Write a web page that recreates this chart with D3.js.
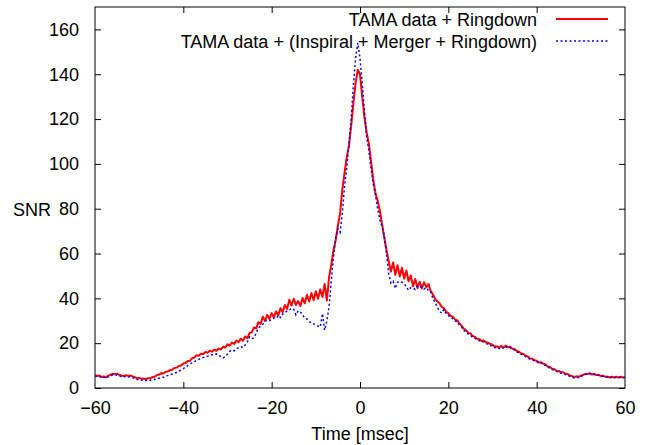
<!DOCTYPE html>
<html><head><meta charset="utf-8">
<script src="https://cdn.jsdelivr.net/npm/d3@7"></script>
<style>body{margin:0;background:#fff}svg{display:block}text{font-family:"Liberation Sans",Arial,sans-serif}</style>
</head><body><div id="chart"></div>
<script>
// time grid: -60 .. 60 msec, every 0.5 msec
const tStart = -60, tStep = 0.5;
const seriesNames = ["TAMA data + Ringdown", "TAMA data + (Inspiral + Merger + Ringdown)"];
const xTicks = [-60, -40, -20, 0, 20, 40, 60];
const yTicks = [0, 20, 40, 60, 80, 100, 120, 140, 160];
const xLabel = "Time [msec]";
const yLabel = "SNR";

const ringdown = [
 5.8,5.4,5.6,4.9,5.2,4.8,5.5,5.9,6.3,6.1,6.4,5.8,5.6,5.3,5.7,5.4,5.6,5.2,4.8,4.4,
 4.5,4.1,4.2,3.9,4.4,4.3,4.8,5.0,5.7,6.0,6.6,6.5,7.3,7.4,8.0,8.1,8.9,9.1,9.8,10.0,
 10.9,11.2,12.0,12.1,13.3,13.6,14.6,14.4,15.3,15.2,16.1,15.7,16.6,16.2,17.1,16.6,17.6,17.2,18.4,18.0,
 19.5,18.9,20.3,19.7,21.2,20.4,22.0,21.1,23.0,22.2,24.6,24.8,27.0,26.6,29.4,28.6,31.8,29.9,32.6,30.8,
 33.4,31.6,34.2,32.4,35.6,33.8,37.0,35.2,39.4,36.8,39.8,37.0,38.8,36.6,40.2,37.8,41.6,38.6,42.4,39.2,
 43.2,39.8,44.0,40.6,46.4,39.0,49.5,55.0,61.5,66.0,72.5,78.0,88.5,96.0,103.0,108.0,117.0,127.0,136.0,142.0,
 140.0,130.0,121.0,114.0,109.0,101.0,93.0,87.0,83.5,79.0,73.0,67.0,61.5,56.5,52.0,56.0,50.5,54.8,49.8,53.6,
 48.8,52.4,47.6,50.2,45.4,48.6,44.6,47.4,44.4,47.2,45.0,46.4,43.2,41.8,39.8,38.6,37.8,36.2,35.6,34.0,
 33.4,32.2,31.8,30.6,30.2,28.8,27.8,26.4,25.8,24.6,24.4,23.2,22.8,22.0,21.8,21.0,21.2,20.4,20.2,19.6,
 19.3,18.4,18.6,18.0,18.8,18.0,18.9,18.2,18.4,17.5,17.4,16.5,16.2,15.4,15.2,14.4,14.0,13.2,13.1,12.4,
 12.2,11.4,11.5,10.8,10.5,9.6,9.4,8.6,8.4,7.7,7.6,7.0,7.0,6.4,6.2,5.6,5.3,4.9,5.2,5.0,
 5.5,5.8,6.3,6.2,6.6,6.0,6.3,5.8,5.9,5.4,5.5,5.0,5.1,4.7,5.0,4.7,5.0,4.7,5.0,4.7,4.9
];
const fullSignal = [
 5.4,5.0,5.2,4.5,4.8,4.3,5.0,5.5,5.8,5.6,5.9,5.3,5.1,4.8,5.2,4.9,5.1,4.6,4.2,3.8,
 3.8,3.5,3.7,3.3,3.6,3.4,3.9,3.8,4.3,4.4,4.6,4.8,5.3,5.6,6.0,6.2,6.6,7.0,7.6,8.0,
 8.6,9.4,10.0,10.8,11.2,11.8,12.3,12.8,13.2,13.6,14.0,14.2,14.6,14.9,14.8,15.2,14.6,14.0,13.4,14.0,
 15.2,16.4,17.0,16.6,17.4,18.0,18.4,18.0,19.2,20.6,22.8,22.0,22.4,24.6,26.8,27.6,28.4,29.8,30.4,30.0,
 30.6,31.2,31.0,32.4,31.4,33.0,33.6,34.4,34.8,35.4,35.2,32.6,34.4,34.0,32.6,31.2,30.8,29.6,29.0,28.6,
 28.0,27.6,27.2,33.2,25.8,30.0,36.4,48.0,58.6,67.0,71.0,69.5,78.0,90.0,98.0,109.0,120.0,135.0,147.0,154.0,
 147.0,136.0,124.0,112.0,106.0,98.0,91.0,86.0,80.0,75.0,72.0,68.0,60.0,51.0,46.8,47.6,44.4,47.2,47.6,47.2,
 46.6,45.0,43.6,44.8,44.6,44.0,45.4,44.8,45.2,44.2,44.8,43.4,43.0,40.0,38.0,36.2,34.2,33.4,35.0,33.2,
 32.4,31.4,31.0,30.0,29.6,28.0,27.2,25.6,25.2,24.0,23.6,22.6,22.2,21.4,21.2,20.6,20.6,19.8,19.6,19.0,
 18.8,18.0,18.2,17.6,18.4,17.6,18.4,17.8,18.0,17.2,17.0,16.0,15.8,15.0,14.8,14.0,13.6,12.8,12.6,12.0,
 11.8,11.0,11.2,10.4,10.1,9.2,9.0,8.2,8.0,7.4,7.2,6.6,6.5,6.0,5.8,5.2,4.9,4.5,4.8,4.6,
 5.2,5.6,6.1,6.1,6.5,5.8,6.1,5.6,5.7,5.2,5.3,4.8,4.9,4.5,4.8,4.5,4.8,4.5,4.8,4.5,4.7
];

const W = 647, H = 445;
const m = {left: 95, right: 22, top: 7, bottom: 57};
const svg = d3.select("#chart").append("svg").attr("width", W).attr("height", H);
const x = d3.scaleLinear().domain([-60, 60]).range([m.left, W - m.right]);
const y = d3.scaleLinear().domain([0, 170]).range([H - m.bottom, m.top]);

const toPts = arr => arr.map((v, i) => [tStart + i * tStep, v]);
const line = d3.line().x(d => x(d[0])).y(d => y(d[1]));

svg.append("defs").append("clipPath").attr("id", "clip")
  .append("rect").attr("x", m.left).attr("y", m.top)
  .attr("width", W - m.left - m.right).attr("height", H - m.top - m.bottom);

const tickLen = 6, fs = 18;
const gx = svg.append("g").attr("transform", `translate(0,${H - m.bottom})`)
  .call(d3.axisBottom(x).tickValues(xTicks).tickSize(-tickLen).tickPadding(13));
const gxt = svg.append("g").attr("transform", `translate(0,${m.top})`)
  .call(d3.axisTop(x).tickValues(xTicks).tickSize(-tickLen).tickFormat(""));
const gy = svg.append("g").attr("transform", `translate(${m.left},0)`)
  .call(d3.axisLeft(y).tickValues(yTicks).tickSize(-tickLen).tickPadding(16));
const gyr = svg.append("g").attr("transform", `translate(${W - m.right},0)`)
  .call(d3.axisRight(y).tickValues(yTicks).tickSize(-tickLen).tickFormat(""));
[gx, gxt, gy, gyr].forEach(g => {
  g.select(".domain").remove();
  g.selectAll(".tick line").attr("stroke", "#000");
  g.selectAll("text").attr("font-size", fs).attr("font-family", '"Liberation Sans",Arial,sans-serif').attr("fill", "#000");
});
gx.selectAll(".tick").filter(d => d === -60 || d === 60).select("line").remove();
gxt.selectAll(".tick").filter(d => d === -60 || d === 60).select("line").remove();

svg.append("rect").attr("x", m.left).attr("y", m.top)
  .attr("width", W - m.left - m.right).attr("height", H - m.top - m.bottom)
  .attr("fill", "none").attr("stroke", "#000").attr("stroke-width", 1);

const plot = svg.append("g").attr("clip-path", "url(#clip)");
plot.append("path").datum(toPts(ringdown)).attr("d", line)
  .attr("fill", "none").attr("stroke", "#ff0000").attr("stroke-width", 2).attr("stroke-linejoin", "round");
plot.append("path").datum(toPts(fullSignal)).attr("d", line)
  .attr("fill", "none").attr("stroke", "#0000ff").attr("stroke-width", 1.5).attr("stroke-dasharray", "2,2.5");

svg.append("text").attr("x", (m.left + W - m.right) / 2).attr("y", 440)
  .attr("text-anchor", "middle").attr("font-size", fs).text(xLabel);
svg.append("text").attr("x", 32).attr("y", 216)
  .attr("text-anchor", "middle").attr("font-size", fs).text(yLabel);

const legend = svg.append("g");
const styles = [{stroke: "#ff0000", w: 2, dash: null}, {stroke: "#0000ff", w: 1.5, dash: "2,2.5"}];
seriesNames.forEach((name, i) => {
  const cy = 19 + i * 22;
  legend.append("text").attr("x", 537).attr("y", cy + 6.5).attr("text-anchor", "end")
    .attr("font-size", fs).text(name);
  legend.append("line").attr("x1", 556).attr("x2", 608).attr("y1", cy).attr("y2", cy)
    .attr("stroke", styles[i].stroke).attr("stroke-width", styles[i].w)
    .attr("stroke-dasharray", styles[i].dash);
});
</script></body></html>
